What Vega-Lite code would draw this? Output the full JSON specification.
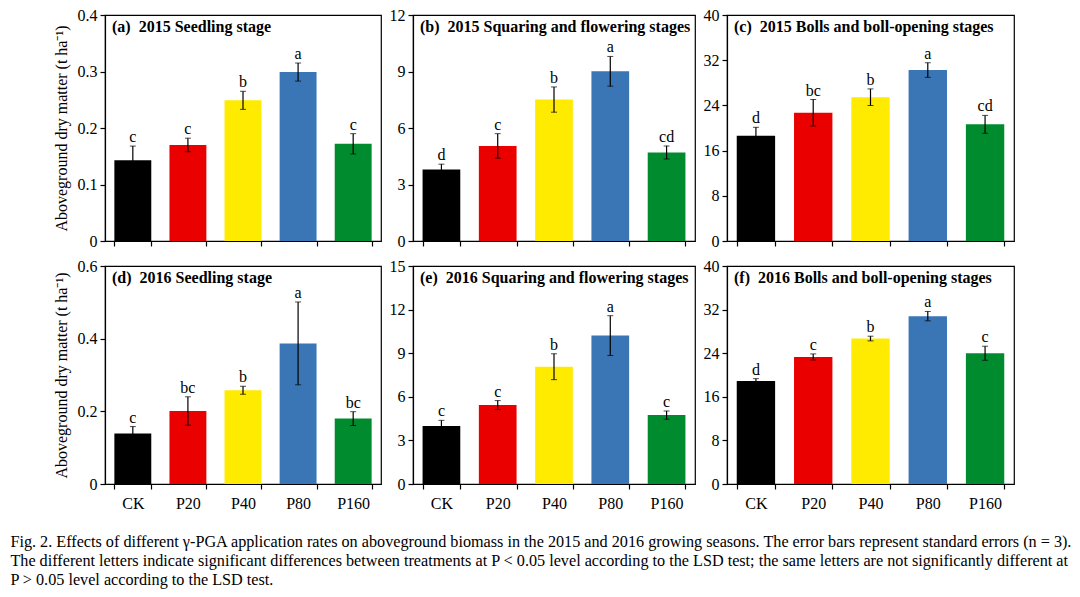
{
  "$schema": "https://vega.github.io/schema/vega-lite/v6.json",
  "padding": {"left": 10, "top": 6, "right": 5, "bottom": 5},
  "background": "white",
  "datasets": {
    "all": [
      {"panel": "a", "trt": "CK", "mean": 0.143, "lo": 0.118, "hi": 0.168, "letter": "c"},
      {"panel": "a", "trt": "P20", "mean": 0.170, "lo": 0.158, "hi": 0.182, "letter": "c"},
      {"panel": "a", "trt": "P40", "mean": 0.249, "lo": 0.233, "hi": 0.265, "letter": "b"},
      {"panel": "a", "trt": "P80", "mean": 0.299, "lo": 0.283, "hi": 0.315, "letter": "a"},
      {"panel": "a", "trt": "P160", "mean": 0.172, "lo": 0.154, "hi": 0.190, "letter": "c"},
      {"panel": "b", "trt": "CK", "mean": 3.80, "lo": 3.52, "hi": 4.08, "letter": "d"},
      {"panel": "b", "trt": "P20", "mean": 5.05, "lo": 4.40, "hi": 5.70, "letter": "c"},
      {"panel": "b", "trt": "P40", "mean": 7.51, "lo": 6.84, "hi": 8.18, "letter": "b"},
      {"panel": "b", "trt": "P80", "mean": 9.01, "lo": 8.22, "hi": 9.80, "letter": "a"},
      {"panel": "b", "trt": "P160", "mean": 4.70, "lo": 4.35, "hi": 5.05, "letter": "cd"},
      {"panel": "c", "trt": "CK", "mean": 18.65, "lo": 17.18, "hi": 20.12, "letter": "d"},
      {"panel": "c", "trt": "P20", "mean": 22.70, "lo": 20.36, "hi": 25.04, "letter": "bc"},
      {"panel": "c", "trt": "P40", "mean": 25.45, "lo": 23.98, "hi": 26.92, "letter": "b"},
      {"panel": "c", "trt": "P80", "mean": 30.26, "lo": 28.97, "hi": 31.55, "letter": "a"},
      {"panel": "c", "trt": "P160", "mean": 20.65, "lo": 19.07, "hi": 22.23, "letter": "cd"},
      {"panel": "d", "trt": "CK", "mean": 0.139, "lo": 0.120, "hi": 0.158, "letter": "c"},
      {"panel": "d", "trt": "P20", "mean": 0.201, "lo": 0.162, "hi": 0.240, "letter": "bc"},
      {"panel": "d", "trt": "P40", "mean": 0.258, "lo": 0.247, "hi": 0.269, "letter": "b"},
      {"panel": "d", "trt": "P80", "mean": 0.387, "lo": 0.273, "hi": 0.501, "letter": "a"},
      {"panel": "d", "trt": "P160", "mean": 0.180, "lo": 0.161, "hi": 0.199, "letter": "bc"},
      {"panel": "e", "trt": "CK", "mean": 3.99, "lo": 3.60, "hi": 4.38, "letter": "c"},
      {"panel": "e", "trt": "P20", "mean": 5.43, "lo": 5.12, "hi": 5.74, "letter": "c"},
      {"panel": "e", "trt": "P40", "mean": 8.07, "lo": 7.18, "hi": 8.96, "letter": "b"},
      {"panel": "e", "trt": "P80", "mean": 10.21, "lo": 8.84, "hi": 11.58, "letter": "a"},
      {"panel": "e", "trt": "P160", "mean": 4.74, "lo": 4.46, "hi": 5.02, "letter": "c"},
      {"panel": "f", "trt": "CK", "mean": 18.90, "lo": 18.47, "hi": 19.33, "letter": "d"},
      {"panel": "f", "trt": "P20", "mean": 23.31, "lo": 22.75, "hi": 23.87, "letter": "c"},
      {"panel": "f", "trt": "P40", "mean": 26.69, "lo": 26.26, "hi": 27.12, "letter": "b"},
      {"panel": "f", "trt": "P80", "mean": 30.80, "lo": 29.94, "hi": 31.66, "letter": "a"},
      {"panel": "f", "trt": "P160", "mean": 23.99, "lo": 22.70, "hi": 25.28, "letter": "c"}
    ]
  },
  "data": {"name": "all"},
  "title": {
    "text": [
      "Fig. 2.  Effects of different γ-PGA application rates on aboveground biomass in the 2015 and 2016 growing seasons. The error bars represent standard errors (n = 3).",
      "The different letters indicate significant differences between treatments at P < 0.05 level according to the LSD test; the same letters are not significantly different at",
      "P > 0.05 level according to the LSD test."
    ],
    "orient": "bottom",
    "anchor": "start",
    "frame": "bounds",
    "fontSize": 16.2,
    "fontWeight": "normal",
    "font": "Liberation Serif",
    "lineHeight": 19,
    "dx": -42,
    "dy": 0,
    "offset": 22,
    "color": "black"
  },
  "spacing": 7,
  "vconcat": [
    {
      "spacing": 6,
      "hconcat": [
        {
          "width": 276, "height": 226,
          "title": {"text": "(a)\u00a0 2015 Seedling stage"},
          "transform": [{"filter": "datum.panel === 'a'"}],
          "encoding": {"x": {"field": "trt", "type": "nominal", "sort": ["CK", "P20", "P40", "P80", "P160"], "scale": {"paddingInner": 0.33, "paddingOuter": 0.17}, "axis": {"labels": false, "title": null}}},
          "layer": [
            {"mark": {"type": "bar"}, "encoding": {
              "y": {"field": "mean", "type": "quantitative", "title": "Aboveground dry matter (t ha⁻¹)", "scale": {"domain": [0, 0.4]}, "axis": {"values": [0, 0.1, 0.2, 0.3, 0.4], "format": "~g"}},
              "color": {"field": "trt", "type": "nominal", "scale": {"domain": ["CK", "P20", "P40", "P80", "P160"], "range": ["#000000", "#EB0000", "#FFEB00", "#3A75B6", "#008C2E"]}, "legend": null}}},
            {"mark": {"type": "errorbar", "ticks": {"size": 6, "color": "black", "strokeWidth": 1.2}, "rule": {"color": "black", "strokeWidth": 1.2}}, "encoding": {
              "y": {"field": "lo", "type": "quantitative", "title": "Aboveground dry matter (t ha⁻¹)", "scale": {"domain": [0, 0.4]}}, "y2": {"field": "hi"}}},
            {"mark": {"type": "text", "baseline": "alphabetic", "dy": -4, "fontSize": 16, "font": "Liberation Serif"}, "encoding": {
              "y": {"field": "hi", "type": "quantitative", "title": "Aboveground dry matter (t ha⁻¹)", "scale": {"domain": [0, 0.4]}}, "text": {"field": "letter"}}}
          ]
        },
        {
          "width": 282, "height": 226,
          "title": {"text": "(b)\u00a0 2015 Squaring and flowering stages"},
          "transform": [{"filter": "datum.panel === 'b'"}],
          "encoding": {"x": {"field": "trt", "type": "nominal", "sort": ["CK", "P20", "P40", "P80", "P160"], "scale": {"paddingInner": 0.33, "paddingOuter": 0.17}, "axis": {"labels": false, "title": null}}},
          "layer": [
            {"mark": {"type": "bar"}, "encoding": {
              "y": {"field": "mean", "type": "quantitative", "title": null, "scale": {"domain": [0, 12]}, "axis": {"values": [0, 3, 6, 9, 12], "format": "~g", "title": null}},
              "color": {"field": "trt", "type": "nominal", "scale": {"domain": ["CK", "P20", "P40", "P80", "P160"], "range": ["#000000", "#EB0000", "#FFEB00", "#3A75B6", "#008C2E"]}, "legend": null}}},
            {"mark": {"type": "errorbar", "ticks": {"size": 6, "color": "black", "strokeWidth": 1.2}, "rule": {"color": "black", "strokeWidth": 1.2}}, "encoding": {
              "y": {"field": "lo", "type": "quantitative", "title": null, "scale": {"domain": [0, 12]}}, "y2": {"field": "hi"}}},
            {"mark": {"type": "text", "baseline": "alphabetic", "dy": -4, "fontSize": 16, "font": "Liberation Serif"}, "encoding": {
              "y": {"field": "hi", "type": "quantitative", "title": null, "scale": {"domain": [0, 12]}}, "text": {"field": "letter"}}}
          ]
        },
        {
          "width": 287, "height": 226,
          "title": {"text": "(c)\u00a0 2015 Bolls and boll-opening stages"},
          "transform": [{"filter": "datum.panel === 'c'"}],
          "encoding": {"x": {"field": "trt", "type": "nominal", "sort": ["CK", "P20", "P40", "P80", "P160"], "scale": {"paddingInner": 0.33, "paddingOuter": 0.17}, "axis": {"labels": false, "title": null}}},
          "layer": [
            {"mark": {"type": "bar"}, "encoding": {
              "y": {"field": "mean", "type": "quantitative", "title": null, "scale": {"domain": [0, 40]}, "axis": {"values": [0, 8, 16, 24, 32, 40], "format": "~g", "title": null}},
              "color": {"field": "trt", "type": "nominal", "scale": {"domain": ["CK", "P20", "P40", "P80", "P160"], "range": ["#000000", "#EB0000", "#FFEB00", "#3A75B6", "#008C2E"]}, "legend": null}}},
            {"mark": {"type": "errorbar", "ticks": {"size": 6, "color": "black", "strokeWidth": 1.2}, "rule": {"color": "black", "strokeWidth": 1.2}}, "encoding": {
              "y": {"field": "lo", "type": "quantitative", "title": null, "scale": {"domain": [0, 40]}}, "y2": {"field": "hi"}}},
            {"mark": {"type": "text", "baseline": "alphabetic", "dy": -4, "fontSize": 16, "font": "Liberation Serif"}, "encoding": {
              "y": {"field": "hi", "type": "quantitative", "title": null, "scale": {"domain": [0, 40]}}, "text": {"field": "letter"}}}
          ]
        }
      ]
    },
    {
      "spacing": 6,
      "hconcat": [
        {
          "width": 276, "height": 218,
          "title": {"text": "(d)\u00a0 2016 Seedling stage"},
          "transform": [{"filter": "datum.panel === 'd'"}],
          "encoding": {"x": {"field": "trt", "type": "nominal", "sort": ["CK", "P20", "P40", "P80", "P160"], "scale": {"paddingInner": 0.33, "paddingOuter": 0.17}, "axis": {"title": null}}},
          "layer": [
            {"mark": {"type": "bar"}, "encoding": {
              "y": {"field": "mean", "type": "quantitative", "title": "Aboveground dry matter (t ha⁻¹)", "scale": {"domain": [0, 0.6]}, "axis": {"values": [0, 0.2, 0.4, 0.6], "format": "~g"}},
              "color": {"field": "trt", "type": "nominal", "scale": {"domain": ["CK", "P20", "P40", "P80", "P160"], "range": ["#000000", "#EB0000", "#FFEB00", "#3A75B6", "#008C2E"]}, "legend": null}}},
            {"mark": {"type": "errorbar", "ticks": {"size": 6, "color": "black", "strokeWidth": 1.2}, "rule": {"color": "black", "strokeWidth": 1.2}}, "encoding": {
              "y": {"field": "lo", "type": "quantitative", "title": "Aboveground dry matter (t ha⁻¹)", "scale": {"domain": [0, 0.6]}}, "y2": {"field": "hi"}}},
            {"mark": {"type": "text", "baseline": "alphabetic", "dy": -4, "fontSize": 16, "font": "Liberation Serif"}, "encoding": {
              "y": {"field": "hi", "type": "quantitative", "title": "Aboveground dry matter (t ha⁻¹)", "scale": {"domain": [0, 0.6]}}, "text": {"field": "letter"}}}
          ]
        },
        {
          "width": 282, "height": 218,
          "title": {"text": "(e)\u00a0 2016 Squaring and flowering stages"},
          "transform": [{"filter": "datum.panel === 'e'"}],
          "encoding": {"x": {"field": "trt", "type": "nominal", "sort": ["CK", "P20", "P40", "P80", "P160"], "scale": {"paddingInner": 0.33, "paddingOuter": 0.17}, "axis": {"title": null}}},
          "layer": [
            {"mark": {"type": "bar"}, "encoding": {
              "y": {"field": "mean", "type": "quantitative", "title": null, "scale": {"domain": [0, 15]}, "axis": {"values": [0, 3, 6, 9, 12, 15], "format": "~g", "title": null}},
              "color": {"field": "trt", "type": "nominal", "scale": {"domain": ["CK", "P20", "P40", "P80", "P160"], "range": ["#000000", "#EB0000", "#FFEB00", "#3A75B6", "#008C2E"]}, "legend": null}}},
            {"mark": {"type": "errorbar", "ticks": {"size": 6, "color": "black", "strokeWidth": 1.2}, "rule": {"color": "black", "strokeWidth": 1.2}}, "encoding": {
              "y": {"field": "lo", "type": "quantitative", "title": null, "scale": {"domain": [0, 15]}}, "y2": {"field": "hi"}}},
            {"mark": {"type": "text", "baseline": "alphabetic", "dy": -4, "fontSize": 16, "font": "Liberation Serif"}, "encoding": {
              "y": {"field": "hi", "type": "quantitative", "title": null, "scale": {"domain": [0, 15]}}, "text": {"field": "letter"}}}
          ]
        },
        {
          "width": 287, "height": 218,
          "title": {"text": "(f)\u00a0 2016 Bolls and boll-opening stages"},
          "transform": [{"filter": "datum.panel === 'f'"}],
          "encoding": {"x": {"field": "trt", "type": "nominal", "sort": ["CK", "P20", "P40", "P80", "P160"], "scale": {"paddingInner": 0.33, "paddingOuter": 0.17}, "axis": {"title": null}}},
          "layer": [
            {"mark": {"type": "bar"}, "encoding": {
              "y": {"field": "mean", "type": "quantitative", "title": null, "scale": {"domain": [0, 40]}, "axis": {"values": [0, 8, 16, 24, 32, 40], "format": "~g", "title": null}},
              "color": {"field": "trt", "type": "nominal", "scale": {"domain": ["CK", "P20", "P40", "P80", "P160"], "range": ["#000000", "#EB0000", "#FFEB00", "#3A75B6", "#008C2E"]}, "legend": null}}},
            {"mark": {"type": "errorbar", "ticks": {"size": 6, "color": "black", "strokeWidth": 1.2}, "rule": {"color": "black", "strokeWidth": 1.2}}, "encoding": {
              "y": {"field": "lo", "type": "quantitative", "title": null, "scale": {"domain": [0, 40]}}, "y2": {"field": "hi"}}},
            {"mark": {"type": "text", "baseline": "alphabetic", "dy": -4, "fontSize": 16, "font": "Liberation Serif"}, "encoding": {
              "y": {"field": "hi", "type": "quantitative", "title": null, "scale": {"domain": [0, 40]}}, "text": {"field": "letter"}}}
          ]
        }
      ]
    }
  ],
  "config": {
    "font": "Liberation Serif",
    "view": {"stroke": "black", "strokeWidth": 1.2},
    "axis": {
      "domainColor": "black", "tickColor": "black", "labelColor": "black",
      "labelFont": "Liberation Serif", "labelFontSize": 16,
      "titleFont": "Liberation Serif", "titleFontSize": 16, "titleFontWeight": "normal", "titleColor": "black",
      "grid": false, "tickSize": 5, "domainWidth": 1.2, "tickWidth": 1.2, "labelPadding": 3
    },
    "axisX": {"tickBand": "extent", "labelAngle": 0, "labelPadding": 6},
    "axisY": {"titlePadding": 8},
    "title": {
      "anchor": "start", "frame": "group", "fontSize": 16, "fontWeight": "bold",
      "font": "Liberation Serif", "dx": 7, "dy": 32, "color": "black", "offset": 0
    }
  }
}
